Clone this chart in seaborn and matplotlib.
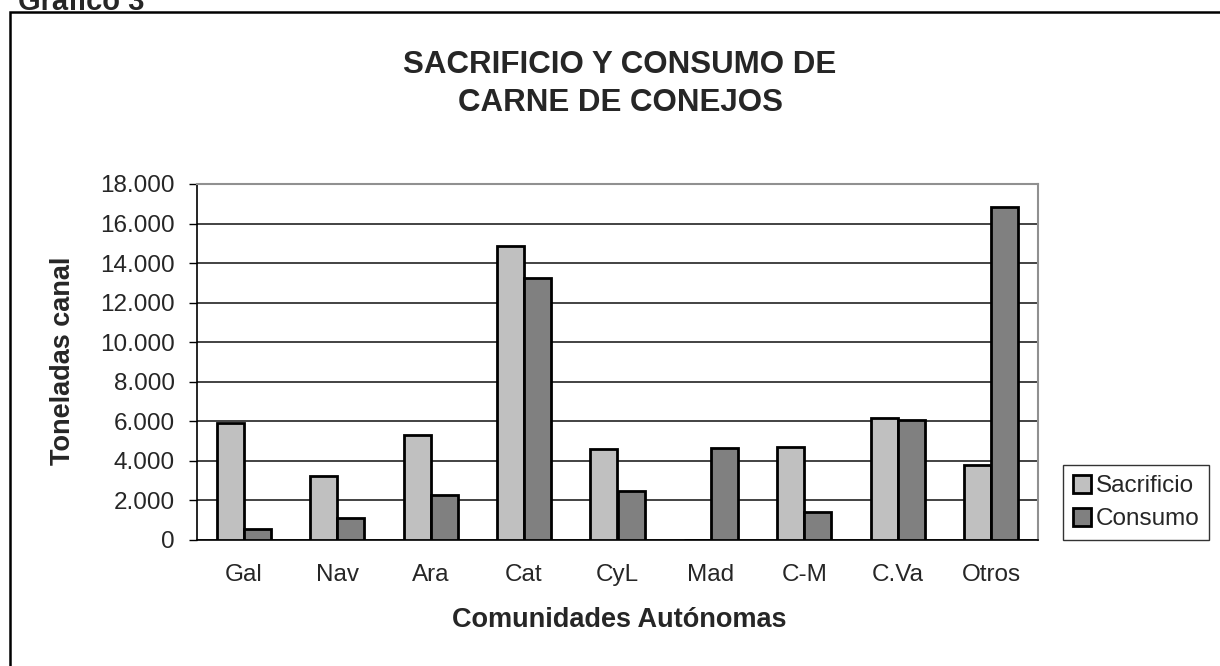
import pandas as pd
import matplotlib
matplotlib.use("Agg")
import matplotlib.pyplot as plt
import seaborn as sns
from matplotlib.patches import Rectangle
from matplotlib.ticker import FuncFormatter, FixedLocator

# data (toneladas canal)
regiones = ["Gal", "Nav", "Ara", "Cat", "CyL", "Mad", "C-M", "C.Va", "Otros"]
sacrificio = [5900, 3230, 5300, 14850, 4580, 0, 4700, 6170, 3800]
consumo = [560, 1100, 2280, 13230, 2480, 4670, 1415, 6080, 16820]
series = ["Sacrificio", "Consumo"]
colores = ["#C0C0C0", "#808080"]
yticks = list(range(0, 18001, 2000))

df = pd.DataFrame({
    "region": regiones * 2,
    "serie": ["Sacrificio"] * len(regiones) + ["Consumo"] * len(regiones),
    "toneladas": sacrificio + consumo,
})

sns.set_style("white")
plt.rcParams["font.family"] = ["Liberation Sans", "DejaVu Sans"]

fig = plt.figure(figsize=(12.2, 6.66), dpi=100)
ax = fig.add_axes([197 / 1220, 126 / 666, 841 / 1220, 356 / 666])

sns.barplot(data=df, x="region", y="toneladas", hue="serie", order=regiones,
            hue_order=series, palette=colores, width=0.58, edgecolor="black",
            linewidth=2, saturation=1, ax=ax, zorder=3)

ax.set_ylim(0, 18000)
ax.set_xlim(-0.5, len(regiones) - 0.5)
ax.set_yticks(yticks)
ax.yaxis.set_major_formatter(FuncFormatter(lambda v, p: f"{int(v):,}".replace(",", ".")))
ax.grid(axis="y", color="#101010", linewidth=1.1, zorder=0)
ax.set_axisbelow(True)

# category ticks sit between the groups
ax.xaxis.set_minor_locator(FixedLocator([i - 0.5 for i in range(len(regiones) + 1)]))
ax.tick_params(axis="x", which="major", length=0, pad=17, labelsize=17.5)
ax.tick_params(axis="x", which="minor", length=7, width=1, direction="out", color="black")
ax.tick_params(axis="y", length=6, width=1, direction="out", color="black", pad=10,
               labelsize=17.5, left=True)

for s in ["top", "right"]:
    ax.spines[s].set_color("#909090")
    ax.spines[s].set_linewidth(1.5)
for s in ["left", "bottom"]:
    ax.spines[s].set_color("black")
    ax.spines[s].set_linewidth(1.2)

ax.set_xlabel("")
ax.set_ylabel("")
fig.text(63 / 1220, 1 - 361 / 666, "Toneladas canal", rotation=90, ha="center",
         va="center", fontsize=19.5, fontweight="bold")
fig.text(619 / 1220, 1 - 620 / 666, "Comunidades Autónomas", ha="center",
         va="center", fontsize=19.5, fontweight="bold")
fig.text(620 / 1220, 1 - 84 / 666, "SACRIFICIO Y CONSUMO DE\nCARNE DE CONEJOS",
         ha="center", va="center", fontsize=22.5, fontweight="bold", linespacing=1.38)
fig.text(18 / 1220, 1 - 10 / 666, "Gráfico 3", ha="left", va="baseline",
         fontsize=21, fontweight="bold")

handles, labels = ax.get_legend_handles_labels()
leg = ax.legend(handles, labels, loc="upper left",
                bbox_to_anchor=(1063 / 1220, 1 - 465 / 666),
                bbox_transform=fig.transFigure, fontsize=17.5, frameon=True,
                fancybox=False, edgecolor="black", handlelength=0.75,
                handleheight=0.75, handletextpad=0.2, borderpad=0.4,
                labelspacing=0.45, borderaxespad=0)
leg.get_frame().set_linewidth(1)

# outer frame of the chart area (runs past the right and bottom edges)
fig.patches.append(Rectangle((10 / 1220, -0.1), 1.2, 1.1 - 12 / 666, fill=False,
                             edgecolor="black", linewidth=1.8,
                             transform=fig.transFigure))

fig.savefig("out.png", dpi=100)
